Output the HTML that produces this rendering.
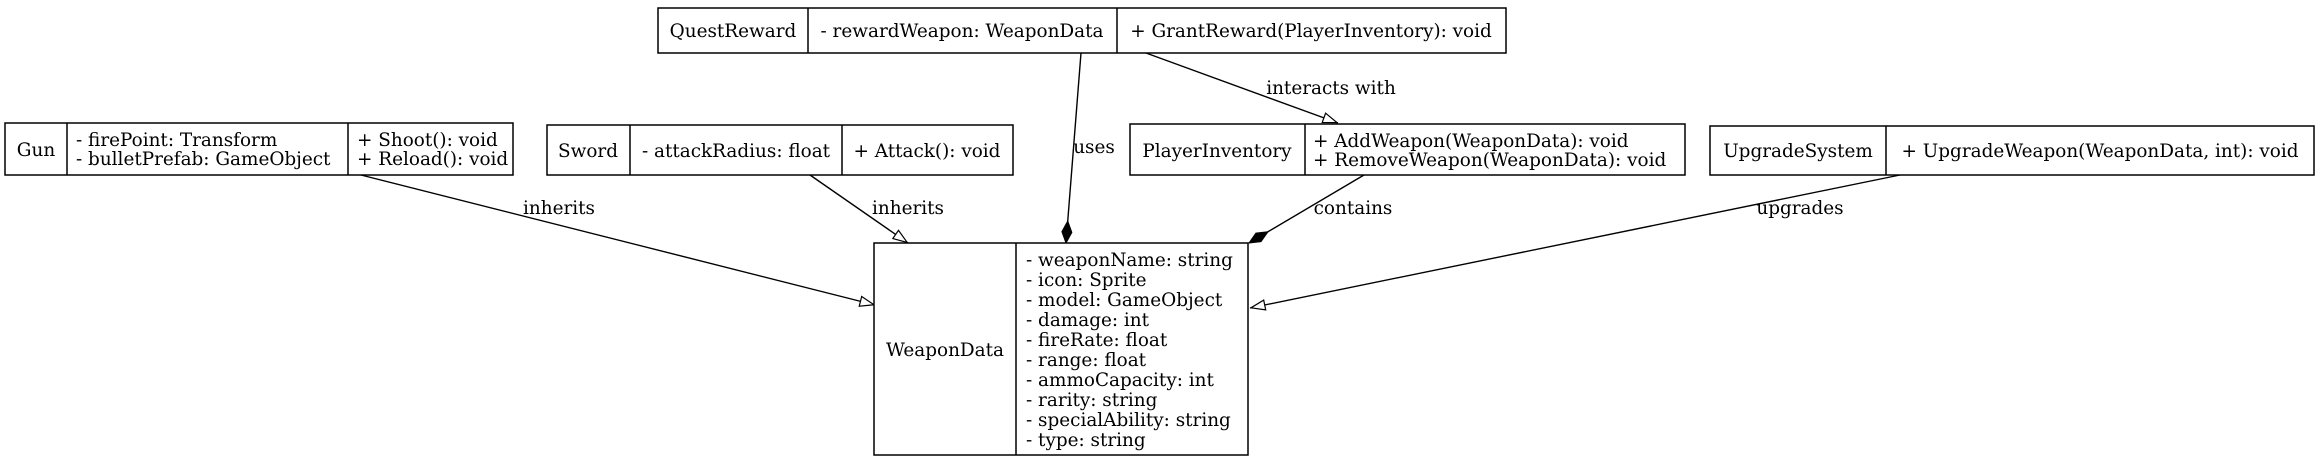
<!DOCTYPE html>
<html><head><meta charset="utf-8"><style>
html,body{margin:0;padding:0;background:#fff;}
svg{display:block;}
text{font-family:"DejaVu Serif","Liberation Serif",serif;font-size:18.4px;fill:#000;}
.c{text-anchor:middle;}
</style></head><body>
<svg width="2319" height="460" viewBox="0 0 2319 460" xmlns="http://www.w3.org/2000/svg">
<defs>
<marker id="tri" viewBox="0 0 16 12" refX="16" refY="6" markerWidth="16" markerHeight="12" markerUnits="userSpaceOnUse" orient="auto">
<path d="M1,1 L15,6 L1,11 z" fill="#fff" stroke="#000" stroke-width="1.2"/></marker>
<marker id="dia" viewBox="0 0 24 12" refX="23" refY="6" markerWidth="24" markerHeight="12" markerUnits="userSpaceOnUse" orient="auto">
<path d="M1,6 L12,1 L23,6 L12,11 z" fill="#000" stroke="#000"/></marker>
</defs>
<g fill="none" stroke="#000" stroke-width="1.4">
<line x1="361" y1="175" x2="875" y2="305" marker-end="url(#tri)"/>
<line x1="810" y1="175" x2="908" y2="243" marker-end="url(#tri)"/>
<line x1="1081" y1="53" x2="1066" y2="243" marker-end="url(#dia)"/>
<line x1="1146" y1="53" x2="1338" y2="123" marker-end="url(#tri)"/>
<line x1="1364" y1="175" x2="1249" y2="243" marker-end="url(#dia)"/>
<line x1="1900" y1="175" x2="1250" y2="308" marker-end="url(#tri)"/>
</g>
<g fill="#fff" stroke="#000" stroke-width="1.5">
<rect x="658" y="8" width="848" height="45"/>
<line x1="808" y1="8" x2="808" y2="53"/><line x1="1117" y1="8" x2="1117" y2="53"/>
<rect x="5" y="123" width="508" height="52"/>
<line x1="67" y1="123" x2="67" y2="175"/><line x1="348" y1="123" x2="348" y2="175"/>
<rect x="547" y="125" width="466" height="50"/>
<line x1="630" y1="125" x2="630" y2="175"/><line x1="842" y1="125" x2="842" y2="175"/>
<rect x="1130" y="124" width="555" height="51"/>
<line x1="1305" y1="124" x2="1305" y2="175"/>
<rect x="1710" y="126" width="604" height="49"/>
<line x1="1886" y1="126" x2="1886" y2="175"/>
<rect x="874" y="243" width="374" height="212"/>
<line x1="1016" y1="243" x2="1016" y2="455"/>
</g>
<text class="c" x="733" y="37">QuestReward</text>
<text class="c" x="962" y="37">- rewardWeapon: WeaponData</text>
<text class="c" x="1311" y="37">+ GrantReward(PlayerInventory): void</text>
<text class="c" x="36" y="156">Gun</text>
<text x="76" y="146">- firePoint: Transform</text>
<text x="76" y="165">- bulletPrefab: GameObject</text>
<text x="357" y="146">+ Shoot(): void</text>
<text x="357" y="165">+ Reload(): void</text>
<text class="c" x="588" y="157">Sword</text>
<text class="c" x="736" y="157">- attackRadius: float</text>
<text class="c" x="927" y="157">+ Attack(): void</text>
<text class="c" x="1217" y="157">PlayerInventory</text>
<text x="1313" y="147">+ AddWeapon(WeaponData): void</text>
<text x="1313" y="166">+ RemoveWeapon(WeaponData): void</text>
<text class="c" x="1798" y="157">UpgradeSystem</text>
<text class="c" x="2100" y="157">+ UpgradeWeapon(WeaponData, int): void</text>
<text class="c" x="945" y="356">WeaponData</text>
<g>
<text x="1026" y="266">- weaponName: string</text>
<text x="1026" y="286">- icon: Sprite</text>
<text x="1026" y="306">- model: GameObject</text>
<text x="1026" y="326">- damage: int</text>
<text x="1026" y="346">- fireRate: float</text>
<text x="1026" y="366">- range: float</text>
<text x="1026" y="386">- ammoCapacity: int</text>
<text x="1026" y="406">- rarity: string</text>
<text x="1026" y="426">- specialAbility: string</text>
<text x="1026" y="446">- type: string</text>
</g>
<text class="c" x="559" y="214">inherits</text>
<text class="c" x="908" y="214">inherits</text>
<text class="c" x="1094" y="153">uses</text>
<text class="c" x="1331" y="94">interacts with</text>
<text class="c" x="1353" y="214">contains</text>
<text class="c" x="1800" y="214">upgrades</text>
</svg>
</body></html>
